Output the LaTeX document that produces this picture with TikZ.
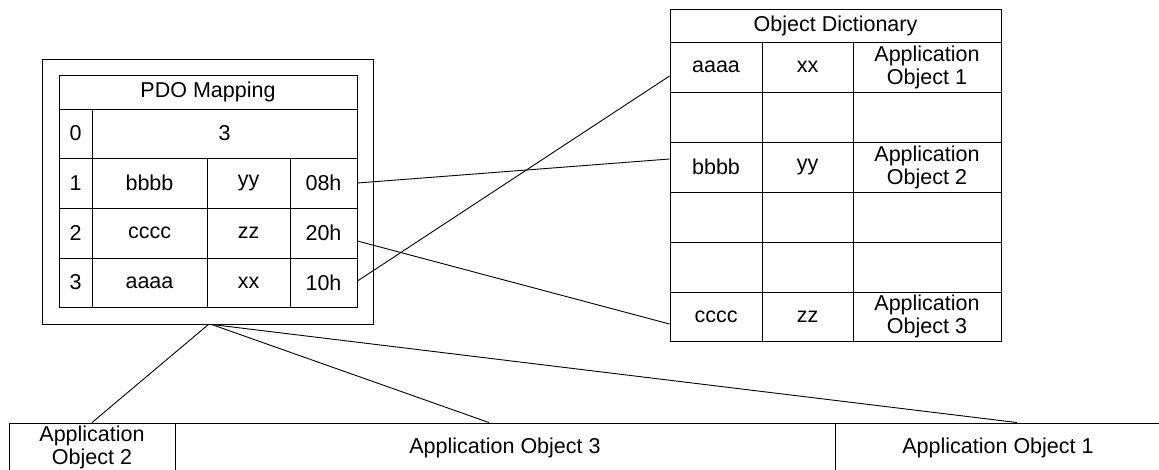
\documentclass[tikz,border=0pt]{standalone}
\usepackage{fontspec}
\setmainfont{Liberation Sans}
\tikzset{
  cell/.style={draw, line width=0.9pt, inner sep=0pt, align=center, font=\fontsize{21.5}{23}\selectfont},
  conn/.style={draw, line width=0.9pt}
}
\newcommand\cellbox[6]{\node[cell, minimum width={#4-#2}, minimum height={#5-#3}] (#1) at ({(#2+#4)/2},{(#3+#5)/2}) {#6};}
\begin{document}
\begin{tikzpicture}[x=1pt,y=-1pt]
\useasboundingbox (0,0) rectangle (1159,470);
\clip (0,0) rectangle (1159,470);
% PDO mapping
\cellbox{pdo}{42}{59}{373}{324}{}
\cellbox{ph}{59}{75}{357}{109}{PDO Mapping}
\cellbox{n0}{59}{109}{92}{158}{0}
\cellbox{v0}{92}{109}{357}{158}{3}
\cellbox{n1}{59}{158}{92}{208}{1}
\cellbox{i1}{92}{158}{207}{208}{bbbb}
\cellbox{s1}{207}{158}{290}{208}{yy}
\cellbox{c08}{290}{158}{357}{208}{08h}
\cellbox{n2}{59}{208}{92}{258}{2}
\cellbox{i2}{92}{208}{207}{258}{cccc}
\cellbox{s2}{207}{208}{290}{258}{zz}
\cellbox{c20}{290}{208}{357}{258}{20h}
\cellbox{n3}{59}{258}{92}{307}{3}
\cellbox{i3}{92}{258}{207}{307}{aaaa}
\cellbox{s3}{207}{258}{290}{307}{xx}
\cellbox{c10}{290}{258}{357}{307}{10h}
% Object dictionary
\cellbox{odh}{670}{9}{1001}{42}{Object Dictionary}
\cellbox{oa}{670}{42}{762}{92}{aaaa}
\cellbox{oas}{762}{42}{853}{92}{xx}
\cellbox{oao}{853}{42}{1001}{92}{Application\\Object 1}
\cellbox{oe1}{670}{92}{762}{142}{}
\cellbox{oe1b}{762}{92}{853}{142}{}
\cellbox{oe1c}{853}{92}{1001}{142}{}
\cellbox{ob}{670}{142}{762}{192}{bbbb}
\cellbox{obs}{762}{142}{853}{192}{yy}
\cellbox{obo}{853}{142}{1001}{192}{Application\\Object 2}
\cellbox{oe2}{670}{192}{762}{242}{}
\cellbox{oe2b}{762}{192}{853}{242}{}
\cellbox{oe2c}{853}{192}{1001}{242}{}
\cellbox{oe3}{670}{242}{762}{292}{}
\cellbox{oe3b}{762}{242}{853}{292}{}
\cellbox{oe3c}{853}{242}{1001}{292}{}
\cellbox{oc}{670}{292}{762}{341}{cccc}
\cellbox{ocs}{762}{292}{853}{341}{zz}
\cellbox{oco}{853}{292}{1001}{341}{Application\\Object 3}
% bottom bar
\cellbox{ao2}{9}{423}{175}{472}{Application\\Object 2}
\cellbox{ao3}{175}{423}{835}{472}{Application Object 3}
\cellbox{ao1}{835}{423}{1161}{472}{Application Object 1}
% connectors
\draw[conn] (c08.east) -- ([yshift=8pt]ob.west);
\draw[conn] ([yshift=-8pt]c20.east) -- ([yshift=-7.5pt]oc.west);
\draw[conn] ([yshift=1.5pt]c10.east) -- ([yshift=-9pt]oa.west);
\draw[conn] ([xshift=1pt]pdo.south) -- (ao2.north);
\draw[conn] ([xshift=4pt]pdo.south) -- ([xshift=-16pt]ao3.north);
\draw[conn] ([xshift=4pt]pdo.south) -- ([xshift=19pt]ao1.north);
\end{tikzpicture}
\end{document}
